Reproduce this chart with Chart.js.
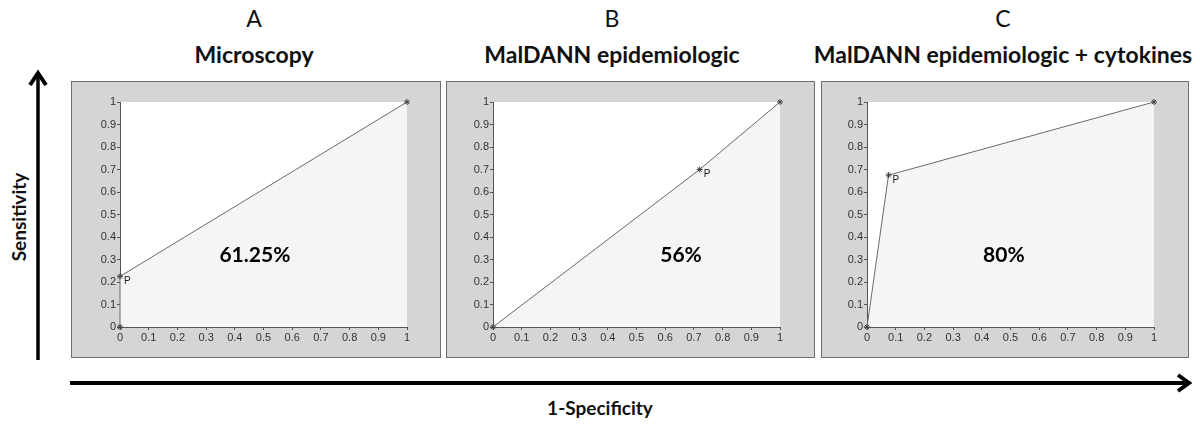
<!DOCTYPE html>
<html>
<head>
<meta charset="utf-8">
<script src="https://cdn.jsdelivr.net/npm/chart.js@4"></script>
<style>
  body { margin: 0; background: #fff; width: 1200px; height: 427px; position: relative; overflow: hidden; font-family: Lato, "Open Sans", sans-serif; }
  .box { position: absolute; top: 81px; height: 277px; box-sizing: border-box; border: 1px solid #6f6f6f; background: #d5d5d5; }
  .box canvas { position: absolute; left: 0; top: 0; }
  .letter { position: absolute; font-size: 23px; color: #111; transform: translateX(-50%); top: 4px; white-space: nowrap; }
  .name { position: absolute; font-size: 23px; font-weight: bold; color: #111; transform: translateX(-50%); top: 40px; white-space: nowrap; }
  .axlab { position: absolute; font-size: 19px; font-weight: bold; color: #111; white-space: nowrap; }
  svg { position: absolute; left: 0; top: 0; }
</style>
</head>
<body>
<svg width="1200" height="427">
  <line x1="38" y1="360" x2="38" y2="76" stroke="#000" stroke-width="3.5"/>
  <polyline points="30,85 38,73 46,85" fill="none" stroke="#000" stroke-width="4"/>
  <line x1="70" y1="383" x2="1186" y2="383" stroke="#000" stroke-width="4"/>
  <polyline points="1178,375 1189,383 1178,391" fill="none" stroke="#000" stroke-width="4"/>
</svg>
<div class="axlab" style="left:600px; top:396px; transform:translateX(-50%);">1-Specificity</div>
<div class="axlab" style="left:18px; top:217px; transform:translate(-50%,-50%) rotate(-90deg);">Sensitivity</div>
<script>
// panel headings
const panelLetters = ['A', 'B', 'C'];
const panelNames = ['Microscopy', 'MalDANN epidemiologic', 'MalDANN epidemiologic + cytokines'];
const headingCenters = [254, 612, 1003];

// ROC points (1-specificity, sensitivity); index 1 is the operating point P
const fprA = [0, 0, 1];
const tprA = [0, 0.225, 1];
const fprB = [0, 0.72, 1];
const tprB = [0, 0.70, 1];
const fprC = [0, 0.075, 1];
const tprC = [0, 0.675, 1];

// area under curve labels and where they sit (data coords)
const aucLabels = ['61.25%', '56%', '80%'];
const aucX = [0.47, 0.655, 0.477];
const aucY = [0.32, 0.32, 0.32];

const tickValues = [0, 0.1, 0.2, 0.3, 0.4, 0.5, 0.6, 0.7, 0.8, 0.9, 1];

// box geometry: left, width, chart padding left/right
const boxes = [
  { left: 71, width: 370, padL: 49, padR: 34 },
  { left: 446, width: 369, padL: 47, padR: 35 },
  { left: 821, width: 368, padL: 46, padR: 35 }
];

const fprs = [fprA, fprB, fprC];
const tprs = [tprA, tprB, tprC];

function toPoints(xs, ys) {
  var out = [];
  for (var i = 0; i < xs.length; ++i)
    out.push({ x: xs[i], y: ys[i] });
  return out;
}

const plotBg = {
  id: 'plotBg',
  beforeDraw(chart) {
    const a = chart.chartArea, ctx = chart.ctx;
    ctx.save();
    ctx.fillStyle = '#ffffff';
    ctx.fillRect(a.left, a.top, a.right - a.left, a.bottom - a.top);
    ctx.restore();
  }
};

const notes = {
  id: 'notes',
  afterDatasetsDraw(chart, args, opts) {
    const ctx = chart.ctx, xs = chart.scales.x, ys = chart.scales.y;
    ctx.save();
    // P label next to operating point
    const px = xs.getPixelForValue(opts.px), py = ys.getPixelForValue(opts.py);
    ctx.fillStyle = '#222';
    ctx.font = '10px "Liberation Sans", Arial, sans-serif';
    ctx.textAlign = 'left';
    ctx.textBaseline = 'middle';
    ctx.fillText('P', px + 4, py + 5);
    // AUC
    ctx.font = 'bold 21px Lato, "Open Sans", sans-serif';
    ctx.fillStyle = '#000';
    ctx.textAlign = 'center';
    ctx.fillText(opts.auc, xs.getPixelForValue(opts.ax), ys.getPixelForValue(opts.ay));
    ctx.restore();
  }
};

function axisOpts(isX) {
  return {
    type: 'linear',
    min: 0,
    max: 1,
    afterBuildTicks: function (scale) {
      scale.ticks = tickValues.map(function (v) { return { value: v }; });
    },
    afterFit: function (scale) {
      if (isX) scale.height = 30; else scale.width = 30;
    },
    ticks: {
      autoSkip: false,
      maxRotation: 0,
      padding: 1,
      color: '#333',
      font: { family: '"Liberation Sans", Arial, sans-serif', size: 11 },
      callback: function (v) { return String(+v.toFixed(1)); }
    },
    grid: { drawOnChartArea: false, tickLength: 3, color: '#555' },
    border: { display: true, color: '#555', width: 1 }
  };
}

for (let k = 0; k < 3; ++k) {
  const b = boxes[k];
  const L = document.createElement('div');
  L.className = 'letter';
  L.style.left = headingCenters[k] + 'px';
  L.textContent = panelLetters[k];
  document.body.appendChild(L);
  const N = document.createElement('div');
  N.className = 'name';
  N.style.left = headingCenters[k] + 'px';
  N.textContent = panelNames[k];
  document.body.appendChild(N);

  const box = document.createElement('div');
  box.className = 'box';
  box.style.left = b.left + 'px';
  box.style.width = b.width + 'px';
  const cv = document.createElement('canvas');
  cv.width = b.width - 2;
  cv.height = 275;
  box.appendChild(cv);
  document.body.appendChild(box);

  new Chart(cv, {
    type: 'scatter',
    data: {
      datasets: [{
        data: toPoints(fprs[k], tprs[k]),
        showLine: true,
        clip: 8,
        borderColor: '#6a6a6a',
        borderWidth: 1,
        fill: 'start',
        backgroundColor: '#f5f5f5',
        pointStyle: 'star',
        pointRadius: 3,
        pointBorderColor: '#444',
        pointBorderWidth: 1,
        pointBackgroundColor: '#444'
      }]
    },
    options: {
      responsive: false,
      animation: false,
      events: [],
      layout: { padding: { left: b.padL - 1 - 30, right: b.padR - 1, top: 20, bottom: 0 } },
      plugins: {
        legend: { display: false },
        tooltip: { enabled: false },
        notes: { px: fprs[k][1], py: tprs[k][1], auc: aucLabels[k], ax: aucX[k], ay: aucY[k] }
      },
      scales: { x: axisOpts(true), y: axisOpts(false) }
    },
    plugins: [plotBg, notes]
  });
}
</script>
</body>
</html>
